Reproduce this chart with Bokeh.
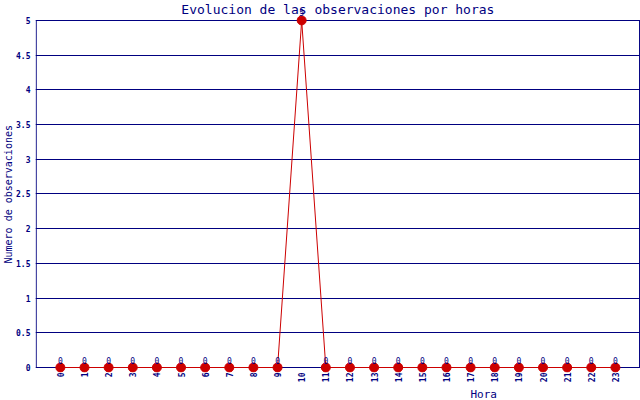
import math

from bokeh.plotting import figure
from bokeh.models import (ColumnDataSource, Range1d, FixedTicker, CustomJSTickFormatter,
                          Label, Title)
from bokeh.embed import file_html
from bokeh.resources import INLINE

# data
hours = [0, 1, 2, 3, 4, 5, 6, 7, 8, 9, 10, 11,
         12, 13, 14, 15, 16, 17, 18, 19, 20, 21, 22, 23]
counts = [0, 0, 0, 0, 0, 0, 0, 0, 0, 0, 5, 0,
          0, 0, 0, 0, 0, 0, 0, 0, 0, 0, 0, 0]
y_ticks = [0, 0.5, 1, 1.5, 2, 2.5, 3, 3.5, 4, 4.5, 5]

NAVY = "#000080"
RED = "#cc0000"
FONT = "DejaVu Sans Mono"

source = ColumnDataSource(dict(hora=hours, n=counts))

x_lo, x_hi = hours[0] - 1, hours[-1] + 1
y_lo, y_hi = y_ticks[0], y_ticks[-1]

# frame runs to the top edge so the title and the peak value can sit inside it
p = figure(
    width=640, height=400,
    x_range=Range1d(x_lo - 0.03, x_hi + 0.04),
    y_range=Range1d(y_lo - 0.072, y_hi + 0.287),
    output_backend="svg", toolbar_location=None,
    min_border_left=35, min_border_right=0, min_border_top=0, min_border_bottom=27,
)
p.outline_line_color = None

# grid
p.xgrid.visible = False
p.ygrid.ticker = FixedTicker(ticks=y_ticks)
p.ygrid.grid_line_color = NAVY
p.ygrid.grid_line_width = 1

# frame borders left / right
p.segment(x0=[x_lo, x_hi], y0=[y_lo, y_lo], x1=[x_lo, x_hi], y1=[y_hi, y_hi],
          line_color=NAVY, line_width=1)

# title
p.add_layout(Label(x=(x_lo + x_hi) / 2, y=y_hi, y_offset=11,
                   text="Evolucion de las observaciones por horas",
                   text_align="center", text_baseline="middle", text_font=FONT,
                   text_font_size="13px", text_color=NAVY))

# y axis
yax = p.yaxis[0]
yax.ticker = FixedTicker(ticks=y_ticks)
yax.formatter = CustomJSTickFormatter(code="return tick.toString();")
yax.axis_line_color = None
yax.major_tick_in = 0
yax.major_tick_out = 0
yax.minor_tick_in = 0
yax.minor_tick_out = 0
yax.major_label_text_font = FONT
yax.major_label_text_font_size = "8px"
yax.major_label_text_font_style = "bold"
yax.major_label_text_color = NAVY
yax.major_label_standoff = 5

p.add_layout(Title(text="Numero de observaciones", align="left", offset=109,
                   text_font=FONT, text_font_size="10px", text_font_style="normal",
                   text_color=NAVY, standoff=0), "left")

# x axis
xax = p.xaxis[0]
xax.ticker = FixedTicker(ticks=hours)
xax.axis_line_color = None
xax.major_tick_in = 0
xax.major_tick_out = 0
xax.minor_tick_in = 0
xax.minor_tick_out = 0
xax.major_label_orientation = math.pi / 2
xax.major_label_text_font = FONT
xax.major_label_text_font_size = "8px"
xax.major_label_text_font_style = "bold"
xax.major_label_text_color = NAVY
xax.major_label_standoff = 0

# "Hora" sits under the right half of the axis, not centred
p.add_layout(Title(text="Hora", align="left", offset=435, text_font=FONT,
                   text_font_size="11px", text_font_style="normal", text_color=NAVY,
                   standoff=0), "below")

# series
p.line("hora", "n", source=source, line_color=RED, line_width=1)
p.scatter("hora", "n", source=source, size=9, fill_color=RED, line_color=RED)

for h, c in zip(hours, counts):
    p.add_layout(Label(x=h, y=c, y_offset=4, text=str(c), text_align="center",
                       text_baseline="bottom", text_font=FONT,
                       text_font_size="8px", text_color=NAVY))

open("out.html", "w").write(file_html(p, INLINE))
